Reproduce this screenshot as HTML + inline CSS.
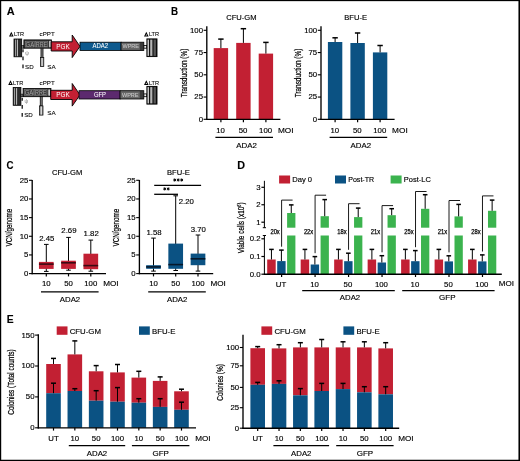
<!DOCTYPE html>
<html><head><meta charset="utf-8"><style>
html,body{margin:0;padding:0;background:#fff;}
body{width:520px;height:461px;overflow:hidden;}
svg{display:block;font-family:"Liberation Sans", sans-serif;will-change:transform;}

</style></head><body>
<svg width="520" height="461" viewBox="0 0 520 461">
<rect x="0" y="0" width="520" height="461" fill="#fff"/>
<text x="6.80" y="14.80" font-size="11.0" text-anchor="start" fill="#000" stroke="#000" stroke-width="0.1" font-weight="bold" textLength="7.90" lengthAdjust="spacingAndGlyphs" >A</text>
<path d="M9.00,36.50 L11.30,31.70 L13.60,36.50 Z" fill="#000"/>
<path d="M10.60,35.50 L11.30,33.90 L12.00,35.50 Z" fill="#fff"/>
<text x="13.90" y="36.40" font-size="6.1" text-anchor="start" fill="#000" stroke="#000" stroke-width="0.08" font-weight="normal" textLength="10.20" lengthAdjust="spacingAndGlyphs" >LTR</text>
<path d="M144.00,36.50 L146.30,31.70 L148.60,36.50 Z" fill="#000"/>
<path d="M145.60,35.50 L146.30,33.90 L147.00,35.50 Z" fill="#fff"/>
<text x="148.90" y="36.40" font-size="6.1" text-anchor="start" fill="#000" stroke="#000" stroke-width="0.08" font-weight="normal" textLength="10.20" lengthAdjust="spacingAndGlyphs" >LTR</text>
<text x="39.60" y="36.40" font-size="6.1" text-anchor="start" fill="#000" stroke="#000" stroke-width="0.08" font-weight="normal" textLength="15.20" lengthAdjust="spacingAndGlyphs" >cPPT</text>
<rect x="14.00" y="39.00" width="7.70" height="17.80" fill="#2b2b2b" stroke="#000" stroke-width="0.8"/>
<rect x="15.00" y="39.60" width="0.80" height="16.60" fill="#b8b8b8" />
<rect x="16.90" y="39.60" width="1.00" height="16.60" fill="#c8c8c8" />
<rect x="21.70" y="45.60" width="2.30" height="2.60" fill="#777" stroke="#000" stroke-width="0.6"/>
<rect x="23.90" y="39.90" width="27.50" height="8.30" fill="#333" stroke="#000" stroke-width="0.8"/>
<rect x="25.20" y="41.20" width="9.20" height="5.80" fill="#404040" stroke="#8a8a8a" stroke-width="0.5"/>
<rect x="35.40" y="41.20" width="12.40" height="5.80" fill="#404040" stroke="#8a8a8a" stroke-width="0.5"/>
<text x="29.80" y="46.60" font-size="6.4" text-anchor="middle" fill="#a0a0a0" stroke="#a0a0a0" stroke-width="0" font-weight="normal" textLength="8.60" lengthAdjust="spacingAndGlyphs" >GA</text>
<text x="41.50" y="46.60" font-size="6.4" text-anchor="middle" fill="#a0a0a0" stroke="#a0a0a0" stroke-width="0" font-weight="normal" textLength="11.40" lengthAdjust="spacingAndGlyphs" >RRE</text>
<rect x="49.10" y="40.80" width="1.70" height="6.60" fill="#cfcfcf" rx="0.8"/>
<text x="25.30" y="54.80" font-size="5.0" text-anchor="start" fill="#777" stroke="#777" stroke-width="0" font-weight="normal" >ψ</text>
<line x1="23.00" y1="49.30" x2="23.00" y2="52.20" stroke="#000" stroke-width="1.2" />
<line x1="23.00" y1="56.60" x2="23.00" y2="60.20" stroke="#000" stroke-width="1.2" />
<line x1="23.00" y1="64.40" x2="23.00" y2="68.30" stroke="#000" stroke-width="1.2" />
<rect x="40.90" y="48.20" width="2.20" height="9.20" fill="#333" stroke="#000" stroke-width="0.5"/>
<rect x="41.70" y="48.60" width="0.60" height="8.40" fill="#aaa" />
<rect x="40.40" y="57.40" width="3.40" height="9.20" fill="#888" stroke="#000" stroke-width="0.7"/>
<rect x="41.50" y="58.00" width="1.20" height="8.00" fill="#e0e0e0" />
<text x="25.00" y="68.50" font-size="6.1" text-anchor="start" fill="#000" stroke="#000" stroke-width="0.08" font-weight="normal" textLength="8.60" lengthAdjust="spacingAndGlyphs" >SD</text>
<text x="47.20" y="68.50" font-size="6.1" text-anchor="start" fill="#000" stroke="#000" stroke-width="0.08" font-weight="normal" textLength="8.40" lengthAdjust="spacingAndGlyphs" >SA</text>
<path d="M51.20,41.80 L72.2,41.80 L72.2,35.00 L80.0,46.40 L72.2,57.60 L72.2,51.00 L51.20,51.00 Z" fill="#c22033" stroke="#000" stroke-width="0.9" stroke-linejoin="miter"/>
<text x="56.20" y="48.60" font-size="6.4" text-anchor="start" fill="#fff" stroke="#fff" stroke-width="0" font-weight="normal" >PGK</text>
<rect x="80.00" y="42.20" width="41.10" height="8.30" fill="#0e5a8e" stroke="#000" stroke-width="0.8"/>
<rect x="121.10" y="42.20" width="22.70" height="8.30" fill="#3a3a3a" stroke="#000" stroke-width="0.8"/>
<rect x="121.60" y="42.80" width="18.20" height="7.10" fill="#676767" />
<text x="130.70" y="48.30" font-size="5.6" text-anchor="middle" fill="#c8c8c8" stroke="#c8c8c8" stroke-width="0.08" font-weight="normal" textLength="16.50" lengthAdjust="spacingAndGlyphs" >WPRE</text>
<rect x="143.90" y="45.40" width="2.90" height="2.80" fill="#eee" stroke="#000" stroke-width="0.8"/>
<rect x="146.90" y="38.90" width="10.10" height="17.70" fill="#111" stroke="#000" stroke-width="0.9"/>
<rect x="147.60" y="39.60" width="1.20" height="16.30" fill="#f2f2f2" />
<rect x="150.20" y="39.60" width="2.20" height="16.30" fill="#b5b5b5" />
<rect x="153.60" y="39.60" width="2.30" height="16.30" fill="#555" />
<text x="100.30" y="48.40" font-size="6.3" text-anchor="middle" fill="#fff" stroke="#fff" stroke-width="0.05" font-weight="normal" textLength="15.60" lengthAdjust="spacingAndGlyphs" >ADA2</text>
<path d="M8.20,85.00 L10.50,80.20 L12.80,85.00 Z" fill="#000"/>
<path d="M9.80,84.00 L10.50,82.40 L11.20,84.00 Z" fill="#fff"/>
<text x="13.10" y="84.90" font-size="6.1" text-anchor="start" fill="#000" stroke="#000" stroke-width="0.08" font-weight="normal" textLength="10.20" lengthAdjust="spacingAndGlyphs" >LTR</text>
<path d="M144.00,85.00 L146.30,80.20 L148.60,85.00 Z" fill="#000"/>
<path d="M145.60,84.00 L146.30,82.40 L147.00,84.00 Z" fill="#fff"/>
<text x="148.90" y="84.90" font-size="6.1" text-anchor="start" fill="#000" stroke="#000" stroke-width="0.08" font-weight="normal" textLength="10.20" lengthAdjust="spacingAndGlyphs" >LTR</text>
<text x="39.60" y="84.90" font-size="6.1" text-anchor="start" fill="#000" stroke="#000" stroke-width="0.08" font-weight="normal" textLength="15.20" lengthAdjust="spacingAndGlyphs" >cPPT</text>
<rect x="13.20" y="87.50" width="7.70" height="17.80" fill="#2b2b2b" stroke="#000" stroke-width="0.8"/>
<rect x="14.20" y="88.10" width="0.80" height="16.60" fill="#b8b8b8" />
<rect x="16.10" y="88.10" width="1.00" height="16.60" fill="#c8c8c8" />
<rect x="20.90" y="94.10" width="2.30" height="2.60" fill="#777" stroke="#000" stroke-width="0.6"/>
<rect x="23.10" y="88.40" width="27.82" height="8.30" fill="#333" stroke="#000" stroke-width="0.8"/>
<rect x="24.40" y="89.70" width="9.20" height="5.80" fill="#404040" stroke="#8a8a8a" stroke-width="0.5"/>
<rect x="34.60" y="89.70" width="12.40" height="5.80" fill="#404040" stroke="#8a8a8a" stroke-width="0.5"/>
<text x="29.00" y="95.10" font-size="6.4" text-anchor="middle" fill="#a0a0a0" stroke="#a0a0a0" stroke-width="0" font-weight="normal" textLength="8.60" lengthAdjust="spacingAndGlyphs" >GA</text>
<text x="40.70" y="95.10" font-size="6.4" text-anchor="middle" fill="#a0a0a0" stroke="#a0a0a0" stroke-width="0" font-weight="normal" textLength="11.40" lengthAdjust="spacingAndGlyphs" >RRE</text>
<rect x="48.30" y="89.30" width="1.70" height="6.60" fill="#cfcfcf" rx="0.8"/>
<text x="24.50" y="103.30" font-size="5.0" text-anchor="start" fill="#777" stroke="#777" stroke-width="0" font-weight="normal" >ψ</text>
<line x1="22.20" y1="97.80" x2="22.20" y2="100.70" stroke="#000" stroke-width="1.2" />
<line x1="22.20" y1="105.10" x2="22.20" y2="108.70" stroke="#000" stroke-width="1.2" />
<line x1="22.20" y1="112.90" x2="22.20" y2="116.80" stroke="#000" stroke-width="1.2" />
<rect x="40.10" y="96.70" width="2.20" height="9.20" fill="#333" stroke="#000" stroke-width="0.5"/>
<rect x="40.90" y="97.10" width="0.60" height="8.40" fill="#aaa" />
<rect x="39.60" y="105.90" width="3.40" height="9.20" fill="#888" stroke="#000" stroke-width="0.7"/>
<rect x="40.70" y="106.50" width="1.20" height="8.00" fill="#e0e0e0" />
<text x="24.20" y="117.00" font-size="6.1" text-anchor="start" fill="#000" stroke="#000" stroke-width="0.08" font-weight="normal" textLength="8.60" lengthAdjust="spacingAndGlyphs" >SD</text>
<text x="47.20" y="115.40" font-size="6.1" text-anchor="start" fill="#000" stroke="#000" stroke-width="0.08" font-weight="normal" textLength="8.40" lengthAdjust="spacingAndGlyphs" >SA</text>
<path d="M50.72,90.30 L72.2,90.30 L72.2,83.50 L80.0,94.90 L72.2,106.10 L72.2,99.50 L50.72,99.50 Z" fill="#c22033" stroke="#000" stroke-width="0.9" stroke-linejoin="miter"/>
<text x="56.20" y="97.10" font-size="6.4" text-anchor="start" fill="#fff" stroke="#fff" stroke-width="0" font-weight="normal" >PGK</text>
<rect x="79.00" y="90.70" width="41.10" height="8.30" fill="#5c2a6e" stroke="#000" stroke-width="0.8"/>
<rect x="120.10" y="90.70" width="23.70" height="8.30" fill="#3a3a3a" stroke="#000" stroke-width="0.8"/>
<rect x="120.60" y="91.30" width="19.20" height="7.10" fill="#676767" />
<text x="130.20" y="96.80" font-size="5.6" text-anchor="middle" fill="#c8c8c8" stroke="#c8c8c8" stroke-width="0.08" font-weight="normal" textLength="16.50" lengthAdjust="spacingAndGlyphs" >WPRE</text>
<rect x="143.90" y="93.90" width="2.90" height="2.80" fill="#eee" stroke="#000" stroke-width="0.8"/>
<rect x="146.90" y="86.40" width="10.10" height="17.70" fill="#111" stroke="#000" stroke-width="0.9"/>
<rect x="147.60" y="87.10" width="1.20" height="16.30" fill="#f2f2f2" />
<rect x="150.20" y="87.10" width="2.20" height="16.30" fill="#b5b5b5" />
<rect x="153.60" y="87.10" width="2.30" height="16.30" fill="#555" />
<text x="100.00" y="96.90" font-size="6.3" text-anchor="middle" fill="#fff" stroke="#fff" stroke-width="0.05" font-weight="normal" textLength="12.00" lengthAdjust="spacingAndGlyphs" >GFP</text>
<text x="171.00" y="14.80" font-size="11.0" text-anchor="start" fill="#000" stroke="#000" stroke-width="0.1" font-weight="bold" textLength="7.10" lengthAdjust="spacingAndGlyphs" >B</text>
<text x="241.40" y="20.30" font-size="7.9" text-anchor="middle" fill="#000" stroke="#000" stroke-width="0.15" font-weight="normal" textLength="30.40" lengthAdjust="spacingAndGlyphs" >CFU-GM</text>
<text transform="translate(184.10,73.00) rotate(-90)" x="0" y="3.02" font-size="8.4" text-anchor="middle" fill="#000" stroke="#000" stroke-width="0.22" textLength="48.60" lengthAdjust="spacingAndGlyphs">Transduction (%)</text>
<rect x="213.70" y="48.10" width="14.40" height="71.20" fill="#c22033" />
<line x1="220.90" y1="38.90" x2="220.90" y2="48.10" stroke="#000" stroke-width="1.0" />
<line x1="218.20" y1="39.10" x2="223.60" y2="39.10" stroke="#000" stroke-width="1.5" />
<rect x="236.20" y="42.90" width="14.40" height="76.40" fill="#c22033" />
<line x1="243.40" y1="28.50" x2="243.40" y2="42.90" stroke="#000" stroke-width="1.0" />
<line x1="240.70" y1="28.70" x2="246.10" y2="28.70" stroke="#000" stroke-width="1.5" />
<rect x="258.70" y="53.60" width="14.40" height="65.70" fill="#c22033" />
<line x1="265.90" y1="42.20" x2="265.90" y2="53.60" stroke="#000" stroke-width="1.0" />
<line x1="263.20" y1="42.40" x2="268.60" y2="42.40" stroke="#000" stroke-width="1.5" />
<line x1="206.80" y1="26.30" x2="206.80" y2="119.90" stroke="#000" stroke-width="1.35" />
<line x1="203.60" y1="30.30" x2="206.80" y2="30.30" stroke="#000" stroke-width="1.1" />
<text x="203.00" y="32.70" font-size="7.8" text-anchor="end" fill="#000" stroke="#000" stroke-width="0.15" font-weight="normal" >100</text>
<line x1="203.60" y1="52.55" x2="206.80" y2="52.55" stroke="#000" stroke-width="1.1" />
<text x="203.00" y="54.95" font-size="7.8" text-anchor="end" fill="#000" stroke="#000" stroke-width="0.15" font-weight="normal" >75</text>
<line x1="203.60" y1="74.80" x2="206.80" y2="74.80" stroke="#000" stroke-width="1.1" />
<text x="203.00" y="77.20" font-size="7.8" text-anchor="end" fill="#000" stroke="#000" stroke-width="0.15" font-weight="normal" >50</text>
<line x1="203.60" y1="97.05" x2="206.80" y2="97.05" stroke="#000" stroke-width="1.1" />
<text x="203.00" y="99.45" font-size="7.8" text-anchor="end" fill="#000" stroke="#000" stroke-width="0.15" font-weight="normal" >25</text>
<line x1="203.60" y1="119.30" x2="206.80" y2="119.30" stroke="#000" stroke-width="1.1" />
<text x="203.00" y="121.70" font-size="7.8" text-anchor="end" fill="#000" stroke="#000" stroke-width="0.15" font-weight="normal" >0</text>
<line x1="206.20" y1="119.30" x2="280.40" y2="119.30" stroke="#000" stroke-width="1.35" />
<line x1="220.90" y1="119.30" x2="220.90" y2="122.30" stroke="#000" stroke-width="1.2" />
<text x="220.60" y="132.60" font-size="7.8" text-anchor="middle" fill="#000" stroke="#000" stroke-width="0.15" font-weight="normal" >10</text>
<line x1="243.40" y1="119.30" x2="243.40" y2="122.30" stroke="#000" stroke-width="1.2" />
<text x="243.10" y="132.60" font-size="7.8" text-anchor="middle" fill="#000" stroke="#000" stroke-width="0.15" font-weight="normal" >50</text>
<line x1="265.90" y1="119.30" x2="265.90" y2="122.30" stroke="#000" stroke-width="1.2" />
<text x="265.60" y="132.60" font-size="7.8" text-anchor="middle" fill="#000" stroke="#000" stroke-width="0.15" font-weight="normal" >100</text>
<text x="277.90" y="132.60" font-size="7.8" text-anchor="start" fill="#000" stroke="#000" stroke-width="0.15" font-weight="normal" textLength="15.60" lengthAdjust="spacingAndGlyphs" >MOI</text>
<line x1="215.40" y1="137.40" x2="273.00" y2="137.40" stroke="#000" stroke-width="1.3" />
<text x="246.60" y="147.70" font-size="7.8" text-anchor="middle" fill="#000" stroke="#000" stroke-width="0.15" font-weight="normal" textLength="20.60" lengthAdjust="spacingAndGlyphs" >ADA2</text>
<text x="355.60" y="20.30" font-size="7.9" text-anchor="middle" fill="#000" stroke="#000" stroke-width="0.15" font-weight="normal" textLength="22.80" lengthAdjust="spacingAndGlyphs" >BFU-E</text>
<text transform="translate(298.30,73.00) rotate(-90)" x="0" y="3.02" font-size="8.4" text-anchor="middle" fill="#000" stroke="#000" stroke-width="0.22" textLength="48.60" lengthAdjust="spacingAndGlyphs">Transduction (%)</text>
<rect x="327.90" y="42.00" width="14.40" height="77.30" fill="#0b5283" />
<line x1="335.10" y1="37.60" x2="335.10" y2="42.00" stroke="#000" stroke-width="1.0" />
<line x1="332.40" y1="37.80" x2="337.80" y2="37.80" stroke="#000" stroke-width="1.5" />
<rect x="350.40" y="43.00" width="14.40" height="76.30" fill="#0b5283" />
<line x1="357.60" y1="32.80" x2="357.60" y2="43.00" stroke="#000" stroke-width="1.0" />
<line x1="354.90" y1="33.00" x2="360.30" y2="33.00" stroke="#000" stroke-width="1.5" />
<rect x="372.90" y="52.40" width="14.40" height="66.90" fill="#0b5283" />
<line x1="380.10" y1="45.30" x2="380.10" y2="52.40" stroke="#000" stroke-width="1.0" />
<line x1="377.40" y1="45.50" x2="382.80" y2="45.50" stroke="#000" stroke-width="1.5" />
<line x1="321.00" y1="26.30" x2="321.00" y2="119.90" stroke="#000" stroke-width="1.35" />
<line x1="317.80" y1="30.30" x2="321.00" y2="30.30" stroke="#000" stroke-width="1.1" />
<text x="317.20" y="32.70" font-size="7.8" text-anchor="end" fill="#000" stroke="#000" stroke-width="0.15" font-weight="normal" >100</text>
<line x1="317.80" y1="52.55" x2="321.00" y2="52.55" stroke="#000" stroke-width="1.1" />
<text x="317.20" y="54.95" font-size="7.8" text-anchor="end" fill="#000" stroke="#000" stroke-width="0.15" font-weight="normal" >75</text>
<line x1="317.80" y1="74.80" x2="321.00" y2="74.80" stroke="#000" stroke-width="1.1" />
<text x="317.20" y="77.20" font-size="7.8" text-anchor="end" fill="#000" stroke="#000" stroke-width="0.15" font-weight="normal" >50</text>
<line x1="317.80" y1="97.05" x2="321.00" y2="97.05" stroke="#000" stroke-width="1.1" />
<text x="317.20" y="99.45" font-size="7.8" text-anchor="end" fill="#000" stroke="#000" stroke-width="0.15" font-weight="normal" >25</text>
<line x1="317.80" y1="119.30" x2="321.00" y2="119.30" stroke="#000" stroke-width="1.1" />
<text x="317.20" y="121.70" font-size="7.8" text-anchor="end" fill="#000" stroke="#000" stroke-width="0.15" font-weight="normal" >0</text>
<line x1="320.40" y1="119.30" x2="394.60" y2="119.30" stroke="#000" stroke-width="1.35" />
<line x1="335.10" y1="119.30" x2="335.10" y2="122.30" stroke="#000" stroke-width="1.2" />
<text x="334.80" y="132.60" font-size="7.8" text-anchor="middle" fill="#000" stroke="#000" stroke-width="0.15" font-weight="normal" >10</text>
<line x1="357.60" y1="119.30" x2="357.60" y2="122.30" stroke="#000" stroke-width="1.2" />
<text x="357.30" y="132.60" font-size="7.8" text-anchor="middle" fill="#000" stroke="#000" stroke-width="0.15" font-weight="normal" >50</text>
<line x1="380.10" y1="119.30" x2="380.10" y2="122.30" stroke="#000" stroke-width="1.2" />
<text x="379.80" y="132.60" font-size="7.8" text-anchor="middle" fill="#000" stroke="#000" stroke-width="0.15" font-weight="normal" >100</text>
<text x="392.10" y="132.60" font-size="7.8" text-anchor="start" fill="#000" stroke="#000" stroke-width="0.15" font-weight="normal" textLength="15.60" lengthAdjust="spacingAndGlyphs" >MOI</text>
<line x1="329.60" y1="137.40" x2="387.20" y2="137.40" stroke="#000" stroke-width="1.3" />
<text x="360.80" y="147.70" font-size="7.8" text-anchor="middle" fill="#000" stroke="#000" stroke-width="0.15" font-weight="normal" textLength="20.60" lengthAdjust="spacingAndGlyphs" >ADA2</text>
<text x="6.50" y="168.90" font-size="11.0" text-anchor="start" fill="#000" stroke="#000" stroke-width="0.1" font-weight="bold" textLength="7.00" lengthAdjust="spacingAndGlyphs" >C</text>
<text x="67.10" y="175.10" font-size="7.9" text-anchor="middle" fill="#000" stroke="#000" stroke-width="0.15" font-weight="normal" textLength="30.40" lengthAdjust="spacingAndGlyphs" >CFU-GM</text>
<text transform="translate(9.20,227.60) rotate(-90)" x="0" y="3.02" font-size="8.4" text-anchor="middle" fill="#000" stroke="#000" stroke-width="0.22" textLength="37.60" lengthAdjust="spacingAndGlyphs">VCN/genome</text>
<line x1="46.30" y1="244.40" x2="46.30" y2="271.40" stroke="#000" stroke-width="1.0" />
<line x1="44.00" y1="244.40" x2="48.60" y2="244.40" stroke="#000" stroke-width="1.0" />
<line x1="44.00" y1="271.40" x2="48.60" y2="271.40" stroke="#000" stroke-width="1.0" />
<rect x="38.95" y="261.90" width="14.70" height="7.00" fill="#c22033" />
<line x1="38.95" y1="264.10" x2="53.65" y2="264.10" stroke="#3a0a12" stroke-width="1.6" />
<line x1="68.50" y1="237.40" x2="68.50" y2="270.20" stroke="#000" stroke-width="1.0" />
<line x1="66.20" y1="237.40" x2="70.80" y2="237.40" stroke="#000" stroke-width="1.0" />
<line x1="66.20" y1="270.20" x2="70.80" y2="270.20" stroke="#000" stroke-width="1.0" />
<rect x="61.15" y="260.70" width="14.70" height="8.20" fill="#c22033" />
<line x1="61.15" y1="262.80" x2="75.85" y2="262.80" stroke="#3a0a12" stroke-width="1.6" />
<line x1="90.80" y1="240.10" x2="90.80" y2="271.20" stroke="#000" stroke-width="1.0" />
<line x1="88.50" y1="240.10" x2="93.10" y2="240.10" stroke="#000" stroke-width="1.0" />
<line x1="88.50" y1="271.20" x2="93.10" y2="271.20" stroke="#000" stroke-width="1.0" />
<rect x="83.45" y="253.70" width="14.70" height="15.50" fill="#c22033" />
<line x1="83.45" y1="265.60" x2="98.15" y2="265.60" stroke="#3a0a12" stroke-width="1.6" />
<text x="46.80" y="240.60" font-size="7.8" text-anchor="middle" fill="#000" stroke="#000" stroke-width="0.15" font-weight="normal" >2.45</text>
<text x="68.90" y="233.00" font-size="7.8" text-anchor="middle" fill="#000" stroke="#000" stroke-width="0.15" font-weight="normal" >2.69</text>
<text x="91.20" y="236.30" font-size="7.8" text-anchor="middle" fill="#000" stroke="#000" stroke-width="0.15" font-weight="normal" >1.82</text>
<line x1="32.20" y1="180.00" x2="32.20" y2="274.20" stroke="#000" stroke-width="1.35" />
<line x1="29.00" y1="180.30" x2="32.20" y2="180.30" stroke="#000" stroke-width="1.1" />
<text x="28.40" y="182.70" font-size="7.8" text-anchor="end" fill="#000" stroke="#000" stroke-width="0.15" font-weight="normal" >25</text>
<line x1="29.00" y1="198.96" x2="32.20" y2="198.96" stroke="#000" stroke-width="1.1" />
<text x="28.40" y="201.36" font-size="7.8" text-anchor="end" fill="#000" stroke="#000" stroke-width="0.15" font-weight="normal" >20</text>
<line x1="29.00" y1="217.62" x2="32.20" y2="217.62" stroke="#000" stroke-width="1.1" />
<text x="28.40" y="220.02" font-size="7.8" text-anchor="end" fill="#000" stroke="#000" stroke-width="0.15" font-weight="normal" >15</text>
<line x1="29.00" y1="236.28" x2="32.20" y2="236.28" stroke="#000" stroke-width="1.1" />
<text x="28.40" y="238.68" font-size="7.8" text-anchor="end" fill="#000" stroke="#000" stroke-width="0.15" font-weight="normal" >10</text>
<line x1="29.00" y1="254.94" x2="32.20" y2="254.94" stroke="#000" stroke-width="1.1" />
<text x="28.40" y="257.34" font-size="7.8" text-anchor="end" fill="#000" stroke="#000" stroke-width="0.15" font-weight="normal" >5</text>
<line x1="29.00" y1="273.60" x2="32.20" y2="273.60" stroke="#000" stroke-width="1.1" />
<text x="28.40" y="276.00" font-size="7.8" text-anchor="end" fill="#000" stroke="#000" stroke-width="0.15" font-weight="normal" >0</text>
<line x1="31.60" y1="273.60" x2="106.00" y2="273.60" stroke="#000" stroke-width="1.35" />
<line x1="46.30" y1="273.60" x2="46.30" y2="276.40" stroke="#000" stroke-width="1.2" />
<text x="46.30" y="286.40" font-size="7.8" text-anchor="middle" fill="#000" stroke="#000" stroke-width="0.15" font-weight="normal" >10</text>
<line x1="68.50" y1="273.60" x2="68.50" y2="276.40" stroke="#000" stroke-width="1.2" />
<text x="68.50" y="286.40" font-size="7.8" text-anchor="middle" fill="#000" stroke="#000" stroke-width="0.15" font-weight="normal" >50</text>
<line x1="90.80" y1="273.60" x2="90.80" y2="276.40" stroke="#000" stroke-width="1.2" />
<text x="90.80" y="286.40" font-size="7.8" text-anchor="middle" fill="#000" stroke="#000" stroke-width="0.15" font-weight="normal" >100</text>
<text x="103.20" y="286.40" font-size="7.8" text-anchor="start" fill="#000" stroke="#000" stroke-width="0.15" font-weight="normal" textLength="15.40" lengthAdjust="spacingAndGlyphs" >MOI</text>
<line x1="41.00" y1="291.90" x2="98.60" y2="291.90" stroke="#000" stroke-width="1.3" />
<text x="70.00" y="301.60" font-size="7.8" text-anchor="middle" fill="#000" stroke="#000" stroke-width="0.15" font-weight="normal" textLength="20.40" lengthAdjust="spacingAndGlyphs" >ADA2</text>
<text x="178.40" y="175.10" font-size="7.9" text-anchor="middle" fill="#000" stroke="#000" stroke-width="0.15" font-weight="normal" textLength="22.80" lengthAdjust="spacingAndGlyphs" >BFU-E</text>
<text transform="translate(116.40,227.60) rotate(-90)" x="0" y="3.02" font-size="8.4" text-anchor="middle" fill="#000" stroke="#000" stroke-width="0.22" textLength="37.60" lengthAdjust="spacingAndGlyphs">VCN/genome</text>
<line x1="153.50" y1="238.10" x2="153.50" y2="271.10" stroke="#000" stroke-width="1.0" />
<line x1="151.20" y1="238.10" x2="155.80" y2="238.10" stroke="#000" stroke-width="1.0" />
<line x1="151.20" y1="271.10" x2="155.80" y2="271.10" stroke="#000" stroke-width="1.0" />
<rect x="146.15" y="265.20" width="14.70" height="3.60" fill="#0b5283" />
<line x1="146.15" y1="266.90" x2="160.85" y2="266.90" stroke="#06182a" stroke-width="1.6" />
<line x1="175.70" y1="195.80" x2="175.70" y2="270.50" stroke="#000" stroke-width="1.0" />
<line x1="173.40" y1="195.80" x2="178.00" y2="195.80" stroke="#000" stroke-width="1.0" />
<line x1="173.40" y1="270.50" x2="178.00" y2="270.50" stroke="#000" stroke-width="1.0" />
<rect x="168.35" y="243.60" width="14.70" height="25.20" fill="#0b5283" />
<line x1="168.35" y1="264.60" x2="183.05" y2="264.60" stroke="#06182a" stroke-width="1.6" />
<line x1="198.00" y1="235.00" x2="198.00" y2="271.10" stroke="#000" stroke-width="1.0" />
<line x1="195.70" y1="235.00" x2="200.30" y2="235.00" stroke="#000" stroke-width="1.0" />
<line x1="195.70" y1="271.10" x2="200.30" y2="271.10" stroke="#000" stroke-width="1.0" />
<rect x="190.65" y="253.60" width="14.70" height="11.60" fill="#0b5283" />
<line x1="190.65" y1="258.80" x2="205.35" y2="258.80" stroke="#06182a" stroke-width="1.6" />
<text x="154.00" y="235.00" font-size="7.8" text-anchor="middle" fill="#000" stroke="#000" stroke-width="0.15" font-weight="normal" >1.58</text>
<text x="186.30" y="203.80" font-size="7.8" text-anchor="middle" fill="#000" stroke="#000" stroke-width="0.15" font-weight="normal" >2.20</text>
<text x="198.30" y="231.50" font-size="7.8" text-anchor="middle" fill="#000" stroke="#000" stroke-width="0.15" font-weight="normal" >3.70</text>
<line x1="139.40" y1="180.00" x2="139.40" y2="274.20" stroke="#000" stroke-width="1.35" />
<line x1="136.20" y1="180.30" x2="139.40" y2="180.30" stroke="#000" stroke-width="1.1" />
<text x="135.60" y="182.70" font-size="7.8" text-anchor="end" fill="#000" stroke="#000" stroke-width="0.15" font-weight="normal" >25</text>
<line x1="136.20" y1="198.96" x2="139.40" y2="198.96" stroke="#000" stroke-width="1.1" />
<text x="135.60" y="201.36" font-size="7.8" text-anchor="end" fill="#000" stroke="#000" stroke-width="0.15" font-weight="normal" >20</text>
<line x1="136.20" y1="217.62" x2="139.40" y2="217.62" stroke="#000" stroke-width="1.1" />
<text x="135.60" y="220.02" font-size="7.8" text-anchor="end" fill="#000" stroke="#000" stroke-width="0.15" font-weight="normal" >15</text>
<line x1="136.20" y1="236.28" x2="139.40" y2="236.28" stroke="#000" stroke-width="1.1" />
<text x="135.60" y="238.68" font-size="7.8" text-anchor="end" fill="#000" stroke="#000" stroke-width="0.15" font-weight="normal" >10</text>
<line x1="136.20" y1="254.94" x2="139.40" y2="254.94" stroke="#000" stroke-width="1.1" />
<text x="135.60" y="257.34" font-size="7.8" text-anchor="end" fill="#000" stroke="#000" stroke-width="0.15" font-weight="normal" >5</text>
<line x1="136.20" y1="273.60" x2="139.40" y2="273.60" stroke="#000" stroke-width="1.1" />
<text x="135.60" y="276.00" font-size="7.8" text-anchor="end" fill="#000" stroke="#000" stroke-width="0.15" font-weight="normal" >0</text>
<line x1="138.80" y1="273.60" x2="213.20" y2="273.60" stroke="#000" stroke-width="1.35" />
<line x1="153.50" y1="273.60" x2="153.50" y2="276.40" stroke="#000" stroke-width="1.2" />
<text x="153.50" y="286.40" font-size="7.8" text-anchor="middle" fill="#000" stroke="#000" stroke-width="0.15" font-weight="normal" >10</text>
<line x1="175.70" y1="273.60" x2="175.70" y2="276.40" stroke="#000" stroke-width="1.2" />
<text x="175.70" y="286.40" font-size="7.8" text-anchor="middle" fill="#000" stroke="#000" stroke-width="0.15" font-weight="normal" >50</text>
<line x1="198.00" y1="273.60" x2="198.00" y2="276.40" stroke="#000" stroke-width="1.2" />
<text x="198.00" y="286.40" font-size="7.8" text-anchor="middle" fill="#000" stroke="#000" stroke-width="0.15" font-weight="normal" >100</text>
<text x="210.40" y="286.40" font-size="7.8" text-anchor="start" fill="#000" stroke="#000" stroke-width="0.15" font-weight="normal" textLength="15.40" lengthAdjust="spacingAndGlyphs" >MOI</text>
<line x1="148.20" y1="291.90" x2="205.80" y2="291.90" stroke="#000" stroke-width="1.3" />
<text x="177.20" y="301.60" font-size="7.8" text-anchor="middle" fill="#000" stroke="#000" stroke-width="0.15" font-weight="normal" textLength="20.40" lengthAdjust="spacingAndGlyphs" >ADA2</text>
<line x1="154.20" y1="185.30" x2="201.10" y2="185.30" stroke="#000" stroke-width="1.3" />
<line x1="154.20" y1="194.30" x2="178.00" y2="194.30" stroke="#000" stroke-width="1.3" />
<path d="M174.70,178.45L174.70,181.55M176.04,179.22L173.36,180.78M176.04,180.78L173.36,179.22" stroke="#000" stroke-width="0.95" fill="none"/>
<path d="M178.20,178.45L178.20,181.55M179.54,179.22L176.86,180.78M179.54,180.78L176.86,179.22" stroke="#000" stroke-width="0.95" fill="none"/>
<path d="M181.70,178.45L181.70,181.55M183.04,179.22L180.36,180.78M183.04,180.78L180.36,179.22" stroke="#000" stroke-width="0.95" fill="none"/>
<path d="M164.70,187.35L164.70,190.45M166.04,188.12L163.36,189.68M166.04,189.68L163.36,188.12" stroke="#000" stroke-width="0.95" fill="none"/>
<path d="M168.20,187.35L168.20,190.45M169.54,188.12L166.86,189.68M169.54,189.68L166.86,188.12" stroke="#000" stroke-width="0.95" fill="none"/>
<text x="237.20" y="168.90" font-size="11.0" text-anchor="start" fill="#000" stroke="#000" stroke-width="0.1" font-weight="bold" textLength="7.80" lengthAdjust="spacingAndGlyphs" >D</text>
<rect x="279.10" y="175.50" width="11.00" height="8.00" fill="#c22033" />
<text x="292.30" y="181.70" font-size="7.7" text-anchor="start" fill="#000" stroke="#000" stroke-width="0.15" font-weight="normal" textLength="19.80" lengthAdjust="spacingAndGlyphs" >Day 0</text>
<rect x="335.00" y="175.50" width="11.00" height="8.00" fill="#0b5283" />
<text x="348.20" y="181.70" font-size="7.7" text-anchor="start" fill="#000" stroke="#000" stroke-width="0.15" font-weight="normal" textLength="26.00" lengthAdjust="spacingAndGlyphs" >Post-TR</text>
<rect x="390.60" y="175.50" width="11.00" height="8.00" fill="#3bb34e" />
<text x="403.80" y="181.70" font-size="7.7" text-anchor="start" fill="#000" stroke="#000" stroke-width="0.15" font-weight="normal" textLength="27.00" lengthAdjust="spacingAndGlyphs" >Post-LC</text>
<rect x="267.20" y="259.50" width="8.50" height="14.70" fill="#c22033" />
<line x1="271.45" y1="249.20" x2="271.45" y2="259.50" stroke="#000" stroke-width="1.0" />
<line x1="269.15" y1="249.40" x2="273.75" y2="249.40" stroke="#000" stroke-width="1.5" />
<rect x="277.20" y="261.10" width="8.40" height="13.10" fill="#0b5283" />
<line x1="281.40" y1="249.90" x2="281.40" y2="261.10" stroke="#000" stroke-width="1.0" />
<line x1="279.10" y1="250.10" x2="283.70" y2="250.10" stroke="#000" stroke-width="1.5" />
<rect x="287.10" y="213.00" width="8.30" height="14.70" fill="#3bb34e" />
<rect x="287.10" y="235.50" width="8.30" height="38.70" fill="#3bb34e" />
<line x1="291.25" y1="204.70" x2="291.25" y2="213.00" stroke="#000" stroke-width="1.0" />
<line x1="288.95" y1="204.90" x2="293.55" y2="204.90" stroke="#000" stroke-width="1.5" />
<path d="M281.60,246.70 L281.60,200.10 L292.60,200.10" fill="none" stroke="#000" stroke-width="0.9"/>
<text x="279.80" y="234.30" font-size="7.0" text-anchor="end" fill="#000" stroke="#000" stroke-width="0.25" font-weight="normal" textLength="9.40" lengthAdjust="spacingAndGlyphs" >20x</text>
<line x1="281.60" y1="274.20" x2="281.60" y2="277.00" stroke="#000" stroke-width="1.2" />
<text x="281.00" y="286.70" font-size="7.8" text-anchor="middle" fill="#000" stroke="#000" stroke-width="0.15" font-weight="normal" >UT</text>
<rect x="300.68" y="259.50" width="8.50" height="14.70" fill="#c22033" />
<line x1="304.93" y1="249.20" x2="304.93" y2="259.50" stroke="#000" stroke-width="1.0" />
<line x1="302.63" y1="249.40" x2="307.23" y2="249.40" stroke="#000" stroke-width="1.5" />
<rect x="310.68" y="264.50" width="8.40" height="9.70" fill="#0b5283" />
<line x1="314.88" y1="256.40" x2="314.88" y2="264.50" stroke="#000" stroke-width="1.0" />
<line x1="312.58" y1="256.60" x2="317.18" y2="256.60" stroke="#000" stroke-width="1.5" />
<rect x="320.58" y="216.20" width="8.30" height="11.50" fill="#3bb34e" />
<rect x="320.58" y="235.50" width="8.30" height="38.70" fill="#3bb34e" />
<line x1="324.73" y1="199.40" x2="324.73" y2="216.20" stroke="#000" stroke-width="1.0" />
<line x1="322.43" y1="199.60" x2="327.03" y2="199.60" stroke="#000" stroke-width="1.5" />
<path d="M315.08,253.20 L315.08,195.20 L326.08,195.20" fill="none" stroke="#000" stroke-width="0.9"/>
<text x="313.28" y="234.30" font-size="7.0" text-anchor="end" fill="#000" stroke="#000" stroke-width="0.25" font-weight="normal" textLength="9.40" lengthAdjust="spacingAndGlyphs" >22x</text>
<line x1="315.08" y1="274.20" x2="315.08" y2="277.00" stroke="#000" stroke-width="1.2" />
<text x="314.48" y="286.70" font-size="7.8" text-anchor="middle" fill="#000" stroke="#000" stroke-width="0.15" font-weight="normal" >10</text>
<rect x="334.16" y="259.50" width="8.50" height="14.70" fill="#c22033" />
<line x1="338.41" y1="249.20" x2="338.41" y2="259.50" stroke="#000" stroke-width="1.0" />
<line x1="336.11" y1="249.40" x2="340.71" y2="249.40" stroke="#000" stroke-width="1.5" />
<rect x="344.16" y="261.20" width="8.40" height="13.00" fill="#0b5283" />
<line x1="348.36" y1="253.00" x2="348.36" y2="261.20" stroke="#000" stroke-width="1.0" />
<line x1="346.06" y1="253.20" x2="350.66" y2="253.20" stroke="#000" stroke-width="1.5" />
<rect x="354.06" y="217.10" width="8.30" height="10.60" fill="#3bb34e" />
<rect x="354.06" y="235.50" width="8.30" height="38.70" fill="#3bb34e" />
<line x1="358.21" y1="207.90" x2="358.21" y2="217.10" stroke="#000" stroke-width="1.0" />
<line x1="355.91" y1="208.10" x2="360.51" y2="208.10" stroke="#000" stroke-width="1.5" />
<path d="M348.56,249.80 L348.56,203.70 L359.56,203.70" fill="none" stroke="#000" stroke-width="0.9"/>
<text x="346.76" y="234.30" font-size="7.0" text-anchor="end" fill="#000" stroke="#000" stroke-width="0.25" font-weight="normal" textLength="9.40" lengthAdjust="spacingAndGlyphs" >18x</text>
<line x1="348.56" y1="274.20" x2="348.56" y2="277.00" stroke="#000" stroke-width="1.2" />
<text x="347.96" y="286.70" font-size="7.8" text-anchor="middle" fill="#000" stroke="#000" stroke-width="0.15" font-weight="normal" >50</text>
<rect x="367.64" y="259.50" width="8.50" height="14.70" fill="#c22033" />
<line x1="371.89" y1="249.20" x2="371.89" y2="259.50" stroke="#000" stroke-width="1.0" />
<line x1="369.59" y1="249.40" x2="374.19" y2="249.40" stroke="#000" stroke-width="1.5" />
<rect x="377.64" y="262.50" width="8.40" height="11.70" fill="#0b5283" />
<line x1="381.84" y1="255.50" x2="381.84" y2="262.50" stroke="#000" stroke-width="1.0" />
<line x1="379.54" y1="255.70" x2="384.14" y2="255.70" stroke="#000" stroke-width="1.5" />
<rect x="387.54" y="215.20" width="8.30" height="12.50" fill="#3bb34e" />
<rect x="387.54" y="235.50" width="8.30" height="38.70" fill="#3bb34e" />
<line x1="391.69" y1="208.50" x2="391.69" y2="215.20" stroke="#000" stroke-width="1.0" />
<line x1="389.39" y1="208.70" x2="393.99" y2="208.70" stroke="#000" stroke-width="1.5" />
<path d="M382.04,252.30 L382.04,205.60 L393.04,205.60" fill="none" stroke="#000" stroke-width="0.9"/>
<text x="380.24" y="234.30" font-size="7.0" text-anchor="end" fill="#000" stroke="#000" stroke-width="0.25" font-weight="normal" textLength="9.40" lengthAdjust="spacingAndGlyphs" >21x</text>
<line x1="382.04" y1="274.20" x2="382.04" y2="277.00" stroke="#000" stroke-width="1.2" />
<text x="381.44" y="286.70" font-size="7.8" text-anchor="middle" fill="#000" stroke="#000" stroke-width="0.15" font-weight="normal" >100</text>
<rect x="401.12" y="259.50" width="8.50" height="14.70" fill="#c22033" />
<line x1="405.37" y1="249.20" x2="405.37" y2="259.50" stroke="#000" stroke-width="1.0" />
<line x1="403.07" y1="249.40" x2="407.67" y2="249.40" stroke="#000" stroke-width="1.5" />
<rect x="411.12" y="261.20" width="8.40" height="13.00" fill="#0b5283" />
<line x1="415.32" y1="250.40" x2="415.32" y2="261.20" stroke="#000" stroke-width="1.0" />
<line x1="413.02" y1="250.60" x2="417.62" y2="250.60" stroke="#000" stroke-width="1.5" />
<rect x="421.02" y="208.80" width="8.30" height="18.90" fill="#3bb34e" />
<rect x="421.02" y="235.50" width="8.30" height="38.70" fill="#3bb34e" />
<line x1="425.17" y1="194.50" x2="425.17" y2="208.80" stroke="#000" stroke-width="1.0" />
<line x1="422.87" y1="194.70" x2="427.47" y2="194.70" stroke="#000" stroke-width="1.5" />
<path d="M415.52,247.20 L415.52,191.50 L426.52,191.50" fill="none" stroke="#000" stroke-width="0.9"/>
<text x="413.72" y="234.30" font-size="7.0" text-anchor="end" fill="#000" stroke="#000" stroke-width="0.25" font-weight="normal" textLength="9.40" lengthAdjust="spacingAndGlyphs" >25x</text>
<line x1="415.52" y1="274.20" x2="415.52" y2="277.00" stroke="#000" stroke-width="1.2" />
<text x="414.92" y="286.70" font-size="7.8" text-anchor="middle" fill="#000" stroke="#000" stroke-width="0.15" font-weight="normal" >10</text>
<rect x="434.60" y="259.50" width="8.50" height="14.70" fill="#c22033" />
<line x1="438.85" y1="249.20" x2="438.85" y2="259.50" stroke="#000" stroke-width="1.0" />
<line x1="436.55" y1="249.40" x2="441.15" y2="249.40" stroke="#000" stroke-width="1.5" />
<rect x="444.60" y="261.40" width="8.40" height="12.80" fill="#0b5283" />
<line x1="448.80" y1="255.60" x2="448.80" y2="261.40" stroke="#000" stroke-width="1.0" />
<line x1="446.50" y1="255.80" x2="451.10" y2="255.80" stroke="#000" stroke-width="1.5" />
<rect x="454.50" y="216.40" width="8.30" height="11.30" fill="#3bb34e" />
<rect x="454.50" y="235.50" width="8.30" height="38.70" fill="#3bb34e" />
<line x1="458.65" y1="204.20" x2="458.65" y2="216.40" stroke="#000" stroke-width="1.0" />
<line x1="456.35" y1="204.40" x2="460.95" y2="204.40" stroke="#000" stroke-width="1.5" />
<path d="M449.00,252.40 L449.00,200.50 L460.00,200.50" fill="none" stroke="#000" stroke-width="0.9"/>
<text x="447.20" y="234.30" font-size="7.0" text-anchor="end" fill="#000" stroke="#000" stroke-width="0.25" font-weight="normal" textLength="9.40" lengthAdjust="spacingAndGlyphs" >21x</text>
<line x1="449.00" y1="274.20" x2="449.00" y2="277.00" stroke="#000" stroke-width="1.2" />
<text x="448.40" y="286.70" font-size="7.8" text-anchor="middle" fill="#000" stroke="#000" stroke-width="0.15" font-weight="normal" >50</text>
<rect x="468.08" y="259.50" width="8.50" height="14.70" fill="#c22033" />
<line x1="472.33" y1="249.20" x2="472.33" y2="259.50" stroke="#000" stroke-width="1.0" />
<line x1="470.03" y1="249.40" x2="474.63" y2="249.40" stroke="#000" stroke-width="1.5" />
<rect x="478.08" y="261.40" width="8.40" height="12.80" fill="#0b5283" />
<line x1="482.28" y1="254.70" x2="482.28" y2="261.40" stroke="#000" stroke-width="1.0" />
<line x1="479.98" y1="254.90" x2="484.58" y2="254.90" stroke="#000" stroke-width="1.5" />
<rect x="487.98" y="210.80" width="8.30" height="16.90" fill="#3bb34e" />
<rect x="487.98" y="235.50" width="8.30" height="38.70" fill="#3bb34e" />
<line x1="492.13" y1="199.90" x2="492.13" y2="210.80" stroke="#000" stroke-width="1.0" />
<line x1="489.83" y1="200.10" x2="494.43" y2="200.10" stroke="#000" stroke-width="1.5" />
<path d="M482.48,251.50 L482.48,195.90 L493.48,195.90" fill="none" stroke="#000" stroke-width="0.9"/>
<text x="480.68" y="234.30" font-size="7.0" text-anchor="end" fill="#000" stroke="#000" stroke-width="0.25" font-weight="normal" textLength="9.40" lengthAdjust="spacingAndGlyphs" >28x</text>
<line x1="482.48" y1="274.20" x2="482.48" y2="277.00" stroke="#000" stroke-width="1.2" />
<text x="481.88" y="286.70" font-size="7.8" text-anchor="middle" fill="#000" stroke="#000" stroke-width="0.15" font-weight="normal" >100</text>
<line x1="264.40" y1="180.80" x2="264.40" y2="227.70" stroke="#000" stroke-width="1.0" />
<line x1="264.40" y1="235.50" x2="264.40" y2="274.70" stroke="#000" stroke-width="1.0" />
<line x1="262.80" y1="227.70" x2="266.00" y2="227.70" stroke="#000" stroke-width="1.0" />
<line x1="262.80" y1="235.50" x2="266.00" y2="235.50" stroke="#000" stroke-width="1.0" />
<line x1="261.40" y1="187.30" x2="264.40" y2="187.30" stroke="#000" stroke-width="1.2" />
<text x="260.60" y="189.70" font-size="7.8" text-anchor="end" fill="#000" stroke="#000" stroke-width="0.15" font-weight="normal" >3</text>
<line x1="261.40" y1="204.75" x2="264.40" y2="204.75" stroke="#000" stroke-width="1.2" />
<text x="260.60" y="207.15" font-size="7.8" text-anchor="end" fill="#000" stroke="#000" stroke-width="0.15" font-weight="normal" >2</text>
<line x1="261.40" y1="222.20" x2="264.40" y2="222.20" stroke="#000" stroke-width="1.2" />
<text x="260.60" y="224.60" font-size="7.8" text-anchor="end" fill="#000" stroke="#000" stroke-width="0.15" font-weight="normal" >1</text>
<line x1="261.40" y1="238.80" x2="264.40" y2="238.80" stroke="#000" stroke-width="1.2" />
<text x="260.60" y="241.20" font-size="7.8" text-anchor="end" fill="#000" stroke="#000" stroke-width="0.15" font-weight="normal" >0.2</text>
<line x1="261.40" y1="256.50" x2="264.40" y2="256.50" stroke="#000" stroke-width="1.2" />
<text x="260.60" y="258.90" font-size="7.8" text-anchor="end" fill="#000" stroke="#000" stroke-width="0.15" font-weight="normal" >0.1</text>
<line x1="261.40" y1="274.20" x2="264.40" y2="274.20" stroke="#000" stroke-width="1.2" />
<text x="260.60" y="276.60" font-size="7.8" text-anchor="end" fill="#000" stroke="#000" stroke-width="0.15" font-weight="normal" >0.0</text>
<line x1="263.80" y1="274.20" x2="501.80" y2="274.20" stroke="#000" stroke-width="1.35" />
<text x="498.80" y="285.80" font-size="7.8" text-anchor="start" fill="#000" stroke="#000" stroke-width="0.15" font-weight="normal" textLength="15.20" lengthAdjust="spacingAndGlyphs" >MOI</text>
<line x1="302.20" y1="290.60" x2="394.80" y2="290.60" stroke="#000" stroke-width="1.3" />
<line x1="402.20" y1="290.60" x2="494.60" y2="290.60" stroke="#000" stroke-width="1.3" />
<text x="350.00" y="300.00" font-size="7.8" text-anchor="middle" fill="#000" stroke="#000" stroke-width="0.15" font-weight="normal" textLength="20.40" lengthAdjust="spacingAndGlyphs" >ADA2</text>
<text x="447.30" y="300.40" font-size="7.8" text-anchor="middle" fill="#000" stroke="#000" stroke-width="0.15" font-weight="normal" textLength="16.40" lengthAdjust="spacingAndGlyphs" >GFP</text>
<text transform="translate(240.9,227.8) rotate(-90)" x="0" y="3.0" font-size="8.4" text-anchor="middle" fill="#000" stroke="#000" stroke-width="0.22" textLength="51" lengthAdjust="spacingAndGlyphs">Viable cells (x10<tspan dy="-2.8" font-size="5.2">6</tspan><tspan dy="2.8">)</tspan></text>
<text x="6.80" y="322.90" font-size="11.0" text-anchor="start" fill="#000" stroke="#000" stroke-width="0.1" font-weight="bold" textLength="6.90" lengthAdjust="spacingAndGlyphs" >E</text>
<rect x="56.70" y="326.40" width="10.80" height="8.40" fill="#c22033" />
<text x="69.70" y="333.60" font-size="7.7" text-anchor="start" fill="#000" stroke="#000" stroke-width="0.15" font-weight="normal" textLength="31.30" lengthAdjust="spacingAndGlyphs" >CFU-GM</text>
<rect x="139.00" y="326.40" width="10.80" height="8.40" fill="#0b5283" />
<text x="152.00" y="333.60" font-size="7.7" text-anchor="start" fill="#000" stroke="#000" stroke-width="0.15" font-weight="normal" textLength="23.40" lengthAdjust="spacingAndGlyphs" >BFU-E</text>
<rect x="46.20" y="364.00" width="14.60" height="29.20" fill="#c22033" />
<rect x="46.20" y="393.20" width="14.60" height="34.60" fill="#0b5283" />
<line x1="53.50" y1="358.20" x2="53.50" y2="364.00" stroke="#000" stroke-width="1.0" />
<line x1="51.00" y1="358.40" x2="56.00" y2="358.40" stroke="#000" stroke-width="1.5" />
<line x1="53.50" y1="383.00" x2="53.50" y2="393.20" stroke="#000" stroke-width="1.0" />
<line x1="51.00" y1="383.20" x2="56.00" y2="383.20" stroke="#000" stroke-width="1.5" />
<rect x="67.53" y="354.40" width="14.60" height="36.60" fill="#c22033" />
<rect x="67.53" y="391.00" width="14.60" height="36.80" fill="#0b5283" />
<line x1="74.83" y1="340.70" x2="74.83" y2="354.40" stroke="#000" stroke-width="1.0" />
<line x1="72.33" y1="340.90" x2="77.33" y2="340.90" stroke="#000" stroke-width="1.5" />
<line x1="74.83" y1="388.50" x2="74.83" y2="391.00" stroke="#000" stroke-width="1.0" />
<line x1="72.33" y1="388.70" x2="77.33" y2="388.70" stroke="#000" stroke-width="1.5" />
<rect x="88.86" y="371.30" width="14.60" height="29.40" fill="#c22033" />
<rect x="88.86" y="400.70" width="14.60" height="27.10" fill="#0b5283" />
<line x1="96.16" y1="365.40" x2="96.16" y2="371.30" stroke="#000" stroke-width="1.0" />
<line x1="93.66" y1="365.60" x2="98.66" y2="365.60" stroke="#000" stroke-width="1.5" />
<line x1="96.16" y1="390.50" x2="96.16" y2="400.70" stroke="#000" stroke-width="1.0" />
<line x1="93.66" y1="390.70" x2="98.66" y2="390.70" stroke="#000" stroke-width="1.5" />
<rect x="110.19" y="372.40" width="14.60" height="29.30" fill="#c22033" />
<rect x="110.19" y="401.70" width="14.60" height="26.10" fill="#0b5283" />
<line x1="117.49" y1="364.30" x2="117.49" y2="372.40" stroke="#000" stroke-width="1.0" />
<line x1="114.99" y1="364.50" x2="119.99" y2="364.50" stroke="#000" stroke-width="1.5" />
<line x1="117.49" y1="387.40" x2="117.49" y2="401.70" stroke="#000" stroke-width="1.0" />
<line x1="114.99" y1="387.60" x2="119.99" y2="387.60" stroke="#000" stroke-width="1.5" />
<rect x="131.52" y="377.60" width="14.60" height="25.10" fill="#c22033" />
<rect x="131.52" y="402.70" width="14.60" height="25.10" fill="#0b5283" />
<line x1="138.82" y1="371.10" x2="138.82" y2="377.60" stroke="#000" stroke-width="1.0" />
<line x1="136.32" y1="371.30" x2="141.32" y2="371.30" stroke="#000" stroke-width="1.5" />
<line x1="138.82" y1="398.50" x2="138.82" y2="402.70" stroke="#000" stroke-width="1.0" />
<line x1="136.32" y1="398.70" x2="141.32" y2="398.70" stroke="#000" stroke-width="1.5" />
<rect x="152.85" y="380.90" width="14.60" height="26.00" fill="#c22033" />
<rect x="152.85" y="406.90" width="14.60" height="20.90" fill="#0b5283" />
<line x1="160.15" y1="376.70" x2="160.15" y2="380.90" stroke="#000" stroke-width="1.0" />
<line x1="157.65" y1="376.90" x2="162.65" y2="376.90" stroke="#000" stroke-width="1.5" />
<line x1="160.15" y1="398.50" x2="160.15" y2="406.90" stroke="#000" stroke-width="1.0" />
<line x1="157.65" y1="398.70" x2="162.65" y2="398.70" stroke="#000" stroke-width="1.5" />
<rect x="174.18" y="391.30" width="14.60" height="18.50" fill="#c22033" />
<rect x="174.18" y="409.80" width="14.60" height="18.00" fill="#0b5283" />
<line x1="181.48" y1="389.00" x2="181.48" y2="391.30" stroke="#000" stroke-width="1.0" />
<line x1="178.98" y1="389.20" x2="183.98" y2="389.20" stroke="#000" stroke-width="1.5" />
<line x1="181.48" y1="402.00" x2="181.48" y2="409.80" stroke="#000" stroke-width="1.0" />
<line x1="178.98" y1="402.20" x2="183.98" y2="402.20" stroke="#000" stroke-width="1.5" />
<line x1="38.30" y1="334.30" x2="38.30" y2="428.40" stroke="#000" stroke-width="1.35" />
<line x1="35.10" y1="335.10" x2="38.30" y2="335.10" stroke="#000" stroke-width="1.1" />
<text x="34.50" y="337.50" font-size="7.8" text-anchor="end" fill="#000" stroke="#000" stroke-width="0.15" font-weight="normal" >150</text>
<line x1="35.10" y1="366.00" x2="38.30" y2="366.00" stroke="#000" stroke-width="1.1" />
<text x="34.50" y="368.40" font-size="7.8" text-anchor="end" fill="#000" stroke="#000" stroke-width="0.15" font-weight="normal" >100</text>
<line x1="35.10" y1="396.90" x2="38.30" y2="396.90" stroke="#000" stroke-width="1.1" />
<text x="34.50" y="399.30" font-size="7.8" text-anchor="end" fill="#000" stroke="#000" stroke-width="0.15" font-weight="normal" >50</text>
<line x1="35.10" y1="427.80" x2="38.30" y2="427.80" stroke="#000" stroke-width="1.1" />
<text x="34.50" y="430.20" font-size="7.8" text-anchor="end" fill="#000" stroke="#000" stroke-width="0.15" font-weight="normal" >0</text>
<line x1="37.70" y1="427.80" x2="196.00" y2="427.80" stroke="#000" stroke-width="1.35" />
<line x1="53.50" y1="427.80" x2="53.50" y2="430.60" stroke="#000" stroke-width="1.2" />
<text x="53.50" y="440.90" font-size="7.8" text-anchor="middle" fill="#000" stroke="#000" stroke-width="0.15" font-weight="normal" >UT</text>
<line x1="74.83" y1="427.80" x2="74.83" y2="430.60" stroke="#000" stroke-width="1.2" />
<text x="74.83" y="440.90" font-size="7.8" text-anchor="middle" fill="#000" stroke="#000" stroke-width="0.15" font-weight="normal" >10</text>
<line x1="96.16" y1="427.80" x2="96.16" y2="430.60" stroke="#000" stroke-width="1.2" />
<text x="96.16" y="440.90" font-size="7.8" text-anchor="middle" fill="#000" stroke="#000" stroke-width="0.15" font-weight="normal" >50</text>
<line x1="117.49" y1="427.80" x2="117.49" y2="430.60" stroke="#000" stroke-width="1.2" />
<text x="117.49" y="440.90" font-size="7.8" text-anchor="middle" fill="#000" stroke="#000" stroke-width="0.15" font-weight="normal" >100</text>
<line x1="138.82" y1="427.80" x2="138.82" y2="430.60" stroke="#000" stroke-width="1.2" />
<text x="138.82" y="440.90" font-size="7.8" text-anchor="middle" fill="#000" stroke="#000" stroke-width="0.15" font-weight="normal" >10</text>
<line x1="160.15" y1="427.80" x2="160.15" y2="430.60" stroke="#000" stroke-width="1.2" />
<text x="160.15" y="440.90" font-size="7.8" text-anchor="middle" fill="#000" stroke="#000" stroke-width="0.15" font-weight="normal" >50</text>
<line x1="181.48" y1="427.80" x2="181.48" y2="430.60" stroke="#000" stroke-width="1.2" />
<text x="181.48" y="440.90" font-size="7.8" text-anchor="middle" fill="#000" stroke="#000" stroke-width="0.15" font-weight="normal" >100</text>
<text x="195.20" y="440.90" font-size="7.8" text-anchor="start" fill="#000" stroke="#000" stroke-width="0.15" font-weight="normal" textLength="15.40" lengthAdjust="spacingAndGlyphs" >MOI</text>
<line x1="68.80" y1="445.60" x2="125.20" y2="445.60" stroke="#000" stroke-width="1.3" />
<line x1="131.90" y1="445.60" x2="189.40" y2="445.60" stroke="#000" stroke-width="1.3" />
<text x="97.00" y="455.60" font-size="7.8" text-anchor="middle" fill="#000" stroke="#000" stroke-width="0.15" font-weight="normal" textLength="20.40" lengthAdjust="spacingAndGlyphs" >ADA2</text>
<text x="160.65" y="455.50" font-size="7.8" text-anchor="middle" fill="#000" stroke="#000" stroke-width="0.15" font-weight="normal" textLength="16.40" lengthAdjust="spacingAndGlyphs" >GFP</text>
<text transform="translate(10.60,382.05) rotate(-90)" x="0" y="3.02" font-size="8.4" text-anchor="middle" fill="#000" stroke="#000" stroke-width="0.22" textLength="65.20" lengthAdjust="spacingAndGlyphs">Colonies (Total counts)</text>
<rect x="261.40" y="326.40" width="10.80" height="8.40" fill="#c22033" />
<text x="274.40" y="333.60" font-size="7.7" text-anchor="start" fill="#000" stroke="#000" stroke-width="0.15" font-weight="normal" textLength="31.30" lengthAdjust="spacingAndGlyphs" >CFU-GM</text>
<rect x="343.40" y="326.40" width="10.80" height="8.40" fill="#0b5283" />
<text x="356.40" y="333.60" font-size="7.7" text-anchor="start" fill="#000" stroke="#000" stroke-width="0.15" font-weight="normal" textLength="23.40" lengthAdjust="spacingAndGlyphs" >BFU-E</text>
<rect x="250.40" y="348.20" width="14.60" height="36.60" fill="#c22033" />
<rect x="250.40" y="384.80" width="14.60" height="43.40" fill="#0b5283" />
<line x1="257.70" y1="346.40" x2="257.70" y2="348.20" stroke="#000" stroke-width="1.0" />
<line x1="255.20" y1="346.60" x2="260.20" y2="346.60" stroke="#000" stroke-width="1.5" />
<line x1="257.70" y1="382.20" x2="257.70" y2="384.80" stroke="#000" stroke-width="1.0" />
<line x1="255.20" y1="382.40" x2="260.20" y2="382.40" stroke="#000" stroke-width="1.5" />
<rect x="271.73" y="348.40" width="14.60" height="35.50" fill="#c22033" />
<rect x="271.73" y="383.90" width="14.60" height="44.30" fill="#0b5283" />
<line x1="279.03" y1="344.50" x2="279.03" y2="348.40" stroke="#000" stroke-width="1.0" />
<line x1="276.53" y1="344.70" x2="281.53" y2="344.70" stroke="#000" stroke-width="1.5" />
<line x1="279.03" y1="380.60" x2="279.03" y2="383.90" stroke="#000" stroke-width="1.0" />
<line x1="276.53" y1="380.80" x2="281.53" y2="380.80" stroke="#000" stroke-width="1.5" />
<rect x="293.06" y="347.40" width="14.60" height="47.90" fill="#c22033" />
<rect x="293.06" y="395.30" width="14.60" height="32.90" fill="#0b5283" />
<line x1="300.36" y1="342.50" x2="300.36" y2="347.40" stroke="#000" stroke-width="1.0" />
<line x1="297.86" y1="342.70" x2="302.86" y2="342.70" stroke="#000" stroke-width="1.5" />
<line x1="300.36" y1="388.40" x2="300.36" y2="395.30" stroke="#000" stroke-width="1.0" />
<line x1="297.86" y1="388.60" x2="302.86" y2="388.60" stroke="#000" stroke-width="1.5" />
<rect x="314.39" y="347.40" width="14.60" height="43.60" fill="#c22033" />
<rect x="314.39" y="391.00" width="14.60" height="37.20" fill="#0b5283" />
<line x1="321.69" y1="339.30" x2="321.69" y2="347.40" stroke="#000" stroke-width="1.0" />
<line x1="319.19" y1="339.50" x2="324.19" y2="339.50" stroke="#000" stroke-width="1.5" />
<line x1="321.69" y1="383.20" x2="321.69" y2="391.00" stroke="#000" stroke-width="1.0" />
<line x1="319.19" y1="383.40" x2="324.19" y2="383.40" stroke="#000" stroke-width="1.5" />
<rect x="335.72" y="347.40" width="14.60" height="41.70" fill="#c22033" />
<rect x="335.72" y="389.10" width="14.60" height="39.10" fill="#0b5283" />
<line x1="343.02" y1="341.60" x2="343.02" y2="347.40" stroke="#000" stroke-width="1.0" />
<line x1="340.52" y1="341.80" x2="345.52" y2="341.80" stroke="#000" stroke-width="1.5" />
<line x1="343.02" y1="383.20" x2="343.02" y2="389.10" stroke="#000" stroke-width="1.0" />
<line x1="340.52" y1="383.40" x2="345.52" y2="383.40" stroke="#000" stroke-width="1.5" />
<rect x="357.05" y="347.40" width="14.60" height="44.90" fill="#c22033" />
<rect x="357.05" y="392.30" width="14.60" height="35.90" fill="#0b5283" />
<line x1="364.35" y1="341.60" x2="364.35" y2="347.40" stroke="#000" stroke-width="1.0" />
<line x1="361.85" y1="341.80" x2="366.85" y2="341.80" stroke="#000" stroke-width="1.5" />
<line x1="364.35" y1="386.50" x2="364.35" y2="392.30" stroke="#000" stroke-width="1.0" />
<line x1="361.85" y1="386.70" x2="366.85" y2="386.70" stroke="#000" stroke-width="1.5" />
<rect x="378.38" y="348.40" width="14.60" height="45.90" fill="#c22033" />
<rect x="378.38" y="394.30" width="14.60" height="33.90" fill="#0b5283" />
<line x1="385.68" y1="342.50" x2="385.68" y2="348.40" stroke="#000" stroke-width="1.0" />
<line x1="383.18" y1="342.70" x2="388.18" y2="342.70" stroke="#000" stroke-width="1.5" />
<line x1="385.68" y1="386.50" x2="385.68" y2="394.30" stroke="#000" stroke-width="1.0" />
<line x1="383.18" y1="386.70" x2="388.18" y2="386.70" stroke="#000" stroke-width="1.5" />
<line x1="243.00" y1="334.70" x2="243.00" y2="428.80" stroke="#000" stroke-width="1.35" />
<line x1="239.80" y1="347.50" x2="243.00" y2="347.50" stroke="#000" stroke-width="1.1" />
<text x="239.20" y="349.90" font-size="7.8" text-anchor="end" fill="#000" stroke="#000" stroke-width="0.15" font-weight="normal" >100</text>
<line x1="239.80" y1="365.80" x2="243.00" y2="365.80" stroke="#000" stroke-width="1.1" />
<text x="239.20" y="368.20" font-size="7.8" text-anchor="end" fill="#000" stroke="#000" stroke-width="0.15" font-weight="normal" >75</text>
<line x1="239.80" y1="387.40" x2="243.00" y2="387.40" stroke="#000" stroke-width="1.1" />
<text x="239.20" y="389.80" font-size="7.8" text-anchor="end" fill="#000" stroke="#000" stroke-width="0.15" font-weight="normal" >50</text>
<line x1="239.80" y1="407.70" x2="243.00" y2="407.70" stroke="#000" stroke-width="1.1" />
<text x="239.20" y="410.10" font-size="7.8" text-anchor="end" fill="#000" stroke="#000" stroke-width="0.15" font-weight="normal" >25</text>
<line x1="239.80" y1="428.20" x2="243.00" y2="428.20" stroke="#000" stroke-width="1.1" />
<text x="239.20" y="430.60" font-size="7.8" text-anchor="end" fill="#000" stroke="#000" stroke-width="0.15" font-weight="normal" >0</text>
<line x1="242.40" y1="428.20" x2="399.20" y2="428.20" stroke="#000" stroke-width="1.35" />
<line x1="257.70" y1="428.20" x2="257.70" y2="431.00" stroke="#000" stroke-width="1.2" />
<text x="257.70" y="440.90" font-size="7.8" text-anchor="middle" fill="#000" stroke="#000" stroke-width="0.15" font-weight="normal" >UT</text>
<line x1="279.03" y1="428.20" x2="279.03" y2="431.00" stroke="#000" stroke-width="1.2" />
<text x="279.03" y="440.90" font-size="7.8" text-anchor="middle" fill="#000" stroke="#000" stroke-width="0.15" font-weight="normal" >10</text>
<line x1="300.36" y1="428.20" x2="300.36" y2="431.00" stroke="#000" stroke-width="1.2" />
<text x="300.36" y="440.90" font-size="7.8" text-anchor="middle" fill="#000" stroke="#000" stroke-width="0.15" font-weight="normal" >50</text>
<line x1="321.69" y1="428.20" x2="321.69" y2="431.00" stroke="#000" stroke-width="1.2" />
<text x="321.69" y="440.90" font-size="7.8" text-anchor="middle" fill="#000" stroke="#000" stroke-width="0.15" font-weight="normal" >100</text>
<line x1="343.02" y1="428.20" x2="343.02" y2="431.00" stroke="#000" stroke-width="1.2" />
<text x="343.02" y="440.90" font-size="7.8" text-anchor="middle" fill="#000" stroke="#000" stroke-width="0.15" font-weight="normal" >10</text>
<line x1="364.35" y1="428.20" x2="364.35" y2="431.00" stroke="#000" stroke-width="1.2" />
<text x="364.35" y="440.90" font-size="7.8" text-anchor="middle" fill="#000" stroke="#000" stroke-width="0.15" font-weight="normal" >50</text>
<line x1="385.68" y1="428.20" x2="385.68" y2="431.00" stroke="#000" stroke-width="1.2" />
<text x="385.68" y="440.90" font-size="7.8" text-anchor="middle" fill="#000" stroke="#000" stroke-width="0.15" font-weight="normal" >100</text>
<text x="398.20" y="440.90" font-size="7.8" text-anchor="start" fill="#000" stroke="#000" stroke-width="0.15" font-weight="normal" textLength="15.40" lengthAdjust="spacingAndGlyphs" >MOI</text>
<line x1="273.40" y1="445.60" x2="329.10" y2="445.60" stroke="#000" stroke-width="1.3" />
<line x1="336.20" y1="445.60" x2="393.60" y2="445.60" stroke="#000" stroke-width="1.3" />
<text x="301.25" y="455.60" font-size="7.8" text-anchor="middle" fill="#000" stroke="#000" stroke-width="0.15" font-weight="normal" textLength="20.40" lengthAdjust="spacingAndGlyphs" >ADA2</text>
<text x="364.90" y="455.50" font-size="7.8" text-anchor="middle" fill="#000" stroke="#000" stroke-width="0.15" font-weight="normal" textLength="16.40" lengthAdjust="spacingAndGlyphs" >GFP</text>
<text transform="translate(219.60,382.45) rotate(-90)" x="0" y="3.02" font-size="8.4" text-anchor="middle" fill="#000" stroke="#000" stroke-width="0.22" textLength="36.40" lengthAdjust="spacingAndGlyphs">Colonies (%)</text>
<rect x="0" y="0" width="520" height="1" fill="#000"/>
<rect x="0" y="1" width="520" height="1" fill="#000" opacity="0.15"/>
<rect x="0" y="0" width="1" height="461" fill="#000"/>
<rect x="1" y="0" width="1" height="461" fill="#000" opacity="0.2"/>
<rect x="519" y="0" width="1" height="461" fill="#000"/>
<rect x="518" y="0" width="1" height="461" fill="#000" opacity="0.55"/>
<rect x="0" y="460" width="520" height="1" fill="#000"/>
<rect x="0" y="459" width="520" height="1" fill="#000" opacity="0.25"/>
</svg>
</body></html>
